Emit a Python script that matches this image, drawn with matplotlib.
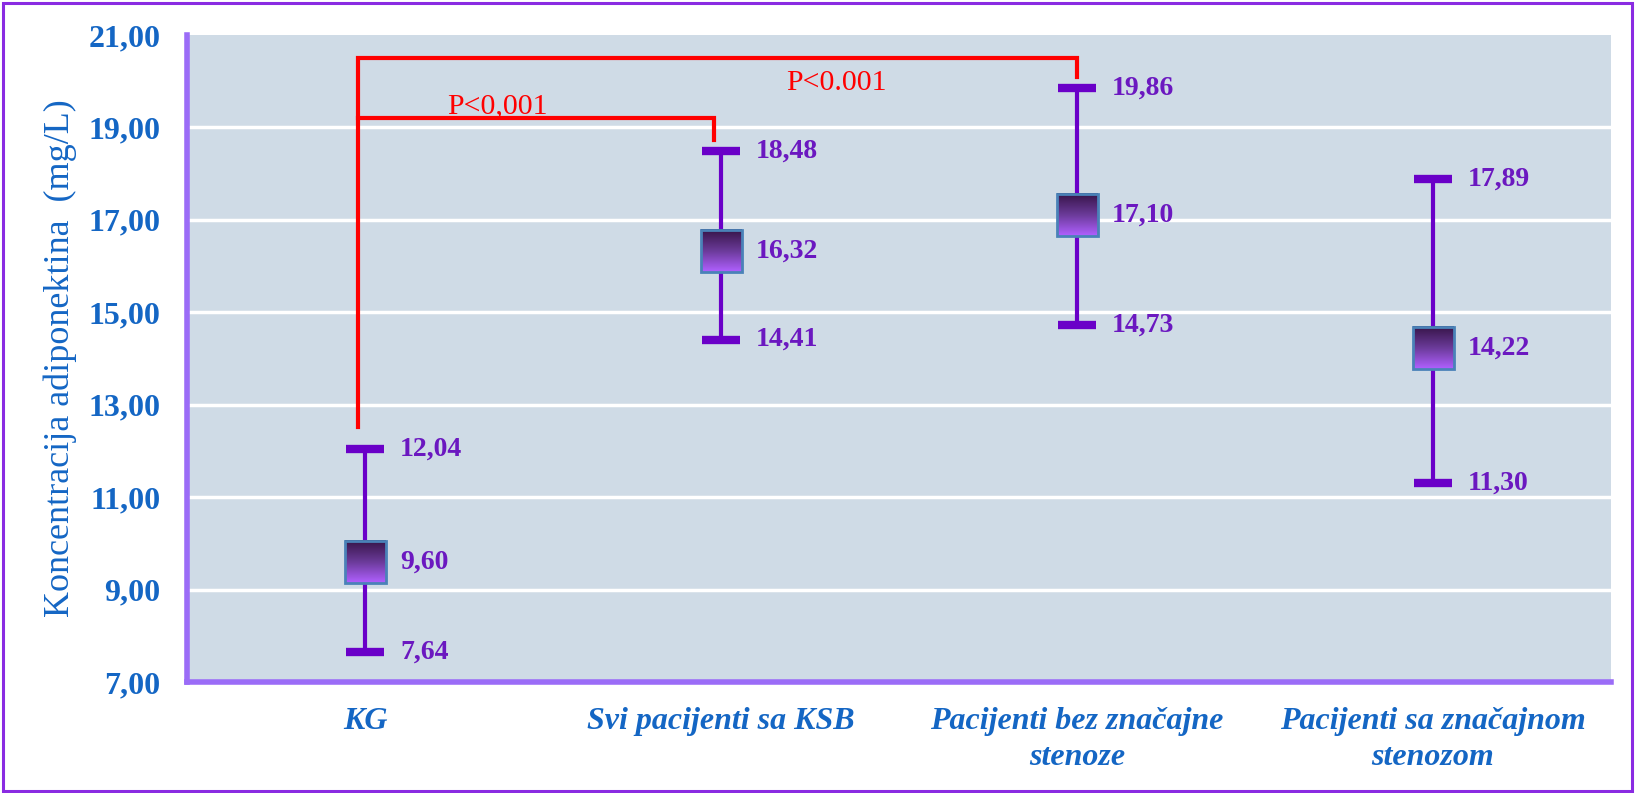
import matplotlib
matplotlib.use("Agg")
import matplotlib.pyplot as plt
import numpy as np
from matplotlib.colors import LinearSegmentedColormap
from matplotlib.patches import Rectangle

# ---- data ----
categories = ["KG", "Svi pacijenti sa KSB", "Pacijenti bez značajne\nstenoze",
              "Pacijenti sa značajnom\nstenozom"]
means = [9.60, 16.32, 17.10, 14.22]
lower = [7.64, 14.41, 14.73, 11.30]
upper = [12.04, 18.48, 19.86, 17.89]
mean_labels = ["9,60", "16,32", "17,10", "14,22"]
lower_labels = ["7,64", "14,41", "14,73", "11,30"]
upper_labels = ["12,04", "18,48", "19,86", "17,89"]
yticks = [7, 9, 11, 13, 15, 17, 19, 21]
ytick_labels = ["7,00", "9,00", "11,00", "13,00", "15,00", "17,00", "19,00", "21,00"]
ylabel = "Koncentracija adiponektina  (mg/L)"
p_texts = ["P<0,001", "P<0.001"]

# ---- style ----
SERIF = ["Liberation Serif", "DejaVu Serif"]
BLUE = "#1466c4"
PURPLE = "#6a00c8"
LABEL_PURPLE = "#6b18c0"
AXIS_PURPLE = "#9b6cf7"

W, H = 1636, 793
fig = plt.figure(figsize=(W / 100, H / 100), dpi=100)
ax = fig.add_axes([187 / W, 1 - 682 / H, (1611 - 187) / W, (682 - 35) / H])
ax.set_facecolor("#cfdbe6")
ax.set_xlim(-0.5, 3.5)
ax.set_ylim(7, 21)

# gridlines
for yv in yticks[1:-1]:
    ax.axhline(yv, color="white", lw=2.5, zorder=1)

x = np.arange(len(categories))

# whiskers + caps
ax.errorbar(x, means, yerr=[np.array(means) - np.array(lower), np.array(upper) - np.array(means)],
            fmt="none", ecolor=PURPLE, elinewidth=3, capsize=14, capthick=6, zorder=3)

# gradient squares
cmap = LinearSegmentedColormap.from_list("g", ["#361447", "#6a3a98", "#b060ff"])
grad = np.linspace(0, 1, 100).reshape(-1, 1)
hw = 20.5 / 356  # half width in category units
hh = 21 / 46.2   # half height in value units
for xi, m in zip(x, means):
    ax.imshow(grad, cmap=cmap, aspect="auto", origin="upper",
              extent=[xi - hw, xi + hw, m - hh, m + hh], zorder=4)
    ax.add_patch(Rectangle((xi - hw, m - hh), 2 * hw, 2 * hh, fill=False,
                           edgecolor="#4a82b8", lw=2, zorder=5))

# value labels
off = 35 / 356
for xi, m, lo, up, ml, ll, ul in zip(x, means, lower, upper, mean_labels, lower_labels, upper_labels):
    for v, t in ((m, ml), (lo, ll), (up, ul)):
        ax.text(xi + off, v, t, color=LABEL_PURPLE, fontsize=20, fontweight="bold",
                family=SERIF, va="center", ha="left", zorder=6)

# significance brackets
dx = -0.02
ax.plot([x[0] + dx, x[0] + dx, x[2], x[2]], [12.52, 20.5, 20.5, 20.09],
        color="red", lw=3, zorder=2, solid_joinstyle="miter")
ax.plot([x[0] + dx, x[1] + dx, x[1] + dx], [19.2, 19.2, 18.72],
        color="red", lw=3, zorder=2, solid_joinstyle="miter")
ax.text(0.373, 19.30, p_texts[0], color="red", fontsize=21.5, family=SERIF,
        ha="center", va="baseline", zorder=6)
ax.text(1.323, 19.80, p_texts[1], color="red", fontsize=21.5, family=SERIF,
        ha="center", va="baseline", zorder=6)

# axes / spines
ax.set_yticks(yticks)
ax.set_yticklabels(ytick_labels, color=BLUE, fontsize=23, fontweight="bold", family=SERIF)
ax.set_xticks(x)
ax.set_xticklabels(categories, color=BLUE, fontsize=23, fontweight="bold",
                   fontstyle="italic", family=SERIF, linespacing=1.3)
ax.tick_params(axis="y", length=0, pad=19)
ax.tick_params(axis="x", length=0, pad=18)
for s in ("top", "right"):
    ax.spines[s].set_visible(False)
for s in ("left", "bottom"):
    ax.spines[s].set_color(AXIS_PURPLE)
    ax.spines[s].set_linewidth(4)
ax.set_ylabel(ylabel, color=BLUE, fontsize=26, family=SERIF, labelpad=8)

# figure border
fig.add_artist(Rectangle((3 / W, 2 / H), (W - 7) / W, (H - 5) / H, transform=fig.transFigure,
                         fill=False, edgecolor="#8a2be2", lw=2.2))

fig.savefig("out.png", dpi=100)
